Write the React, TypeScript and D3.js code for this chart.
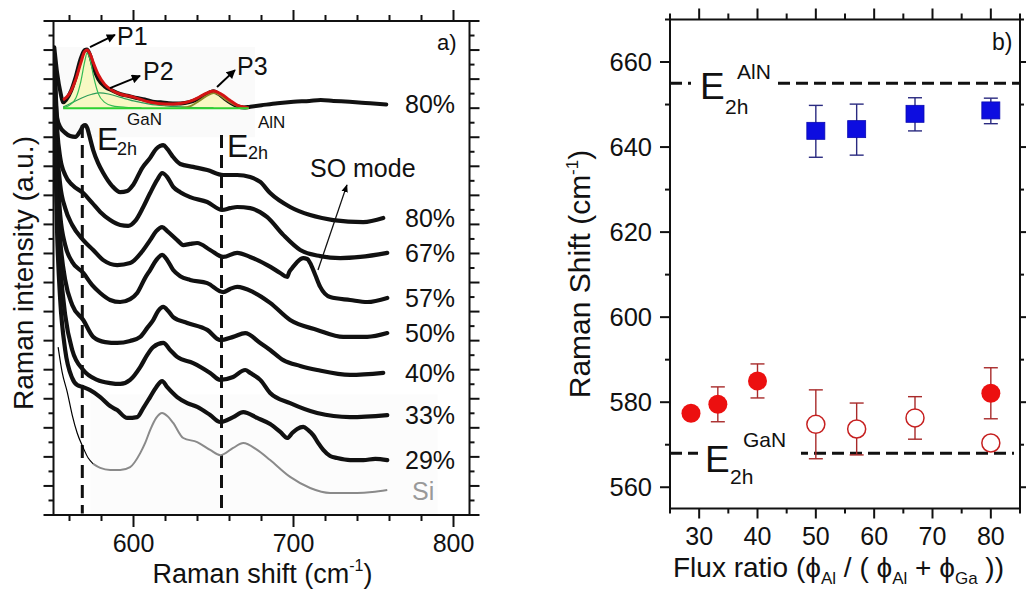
import React from 'react';
import * as d3 from 'd3';

type Pt = [number, number];
const FONT = "'Liberation Sans', Arial, Helvetica, sans-serif";

// ---------------- Panel a : Raman spectra (shift cm-1, intensity a.u. offset) ----------------
const spec80top: Pt[] = [[550.5,16.1],[552.3,15.2],[554.5,14.5],[556,14.2],[558,14.3],[561,14.6],[564,15.1],[567,15.7],[569.5,16.0],[571,16.02],[573,15.8],[575,15.4],[578,15.0],[582,14.75],[587,14.6],[592,14.48],[597,14.42],[602,14.35],[607,14.3],[612,14.22],[617,14.2],[622,14.17],[627,14.16],[632,14.18],[637,14.24],[641,14.34],[645,14.46],[648,14.55],[650,14.58],[653,14.5],[657,14.33],[661,14.18],[665,14.07],[669,14.02],[673,14.05],[680,14.1],[690,14.17],[700,14.22],[710,14.25],[717,14.28],[725,14.25],[735,14.22],[745,14.18],[752,14.15],[758,14.13]];
const fitTotal: Pt[] = [[556,14.28],[560,14.5],[564,15.0],[567,15.55],[569.5,15.95],[571,16.0],[573,15.85],[575,15.55],[578,15.15],[582,14.82],[587,14.6],[592,14.48],[600,14.38],[610,14.21],[620,14.14],[630,14.17],[636,14.25],[640,14.35],[645,14.5],[650,14.59],[655,14.48],[660,14.28],[665,14.1],[669,14.04],[672,14.01]];
const fitP1: Pt[] = [[556,14.02],[560,14.1],[564,14.35],[567,14.9],[569.5,15.6],[571,15.9],[573,15.65],[575,15.1],[578,14.5],[582,14.2],[587,14.08],[595,14.03],[605,14.01]];
const fitP2: Pt[] = [[556,14.04],[562,14.2],[568,14.36],[574,14.48],[579,14.53],[585,14.48],[592,14.37],[600,14.25],[610,14.14],[620,14.08],[635,14.03],[650,14.01]];
const fitP3: Pt[] = [[630,14.01],[636,14.08],[641,14.25],[646,14.43],[650,14.52],[654,14.45],[658,14.28],[663,14.12],[668,14.03],[672,14.01]];
const fitBase: Pt[] = [[556,14.0],[672,14.0]];

const spec80: Pt[] = [[550.5,15.83],[552.3,13.66],[554.2,13.35],[557.3,13.15],[560.4,13.04],[563.6,13.01],[566.7,13.21],[568.6,13.39],[569.8,13.42],[571.1,13.32],[572.3,13.08],[574.8,12.56],[577.9,12.11],[581.1,11.77],[586.7,11.32],[591.7,11.11],[596.1,11.15],[599.8,11.36],[605.4,11.94],[610.4,12.29],[614.2,12.6],[616.7,12.7],[618.6,12.73],[621.1,12.6],[624.2,12.36],[629.2,12.08],[637.3,11.98],[646.1,11.87],[656.1,11.7],[664.8,11.7],[672.9,11.63],[679.2,11.46],[685.4,11.08],[697.9,10.6],[710.4,10.32],[724.8,10.15],[743.6,10.08],[756.1,10.22]];
const spec67: Pt[] = [[550.4,15.59],[552.3,13.25],[554.2,12.29],[557.3,11.7],[561.7,11.36],[568.6,11.08],[574.2,10.74],[579.2,10.43],[585.4,10.15],[591.7,9.98],[596.7,9.95],[601.1,10.12],[606.1,10.6],[610.4,11.08],[614.8,11.53],[617.9,11.77],[621.1,11.63],[624.8,11.29],[629.2,11.11],[635.4,10.94],[646.1,10.77],[655.4,10.5],[660.4,10.56],[664.8,10.6],[672.9,10.56],[683.6,10.25],[693.6,9.64],[704.2,9.12],[716.7,8.91],[729.2,8.84],[741.7,8.88],[758.6,9.02]];
const spec57: Pt[] = [[550.4,15.31],[552.3,12.56],[554.2,11.36],[557.3,10.56],[561.7,9.98],[568.6,9.46],[574.8,9.12],[581.1,8.77],[589.8,8.6],[597.9,8.67],[606.1,9.12],[610.4,9.46],[614.2,9.77],[617.9,9.91],[621.1,9.77],[627.3,9.46],[631.1,9.29],[635.4,9.33],[639.8,9.36],[647.9,9.12],[656.1,8.88],[664.8,9.02],[672.9,8.88],[683.6,8.6],[691.7,8.33],[696.1,8.19],[697.3,8.36],[699.2,8.5],[702.3,8.71],[706.1,8.84],[708.6,8.81],[710.4,8.67],[713.6,8.26],[716.7,7.85],[722.9,7.5],[735.4,7.4],[746.1,7.33],[758.6,7.47]];
const spec50: Pt[] = [[550.4,15.04],[552.3,11.87],[554.2,10.32],[557.3,9.29],[561.7,8.71],[568.6,8.33],[574.2,7.91],[579.2,7.64],[585.4,7.4],[591.7,7.33],[597.9,7.43],[602.3,7.64],[607.3,8.16],[610.4,8.43],[614.2,8.77],[617.9,8.95],[621.1,8.77],[624.8,8.43],[629.2,8.22],[635.4,8.09],[646.1,7.98],[656.1,7.67],[660.4,7.78],[664.8,7.85],[674.8,7.67],[685.4,7.3],[697.9,6.71],[714.8,6.37],[731.1,6.13],[746.1,6.13],[758.6,6.26]];
const spec40: Pt[] = [[550.4,14.8],[552.3,11.18],[554.2,9.46],[557.3,8.09],[561.7,7.23],[568.6,6.71],[574.8,6.13],[582.3,5.95],[589.8,5.92],[597.9,5.99],[604.2,6.13],[608.6,6.44],[612.3,6.71],[615.4,7.02],[618.6,7.16],[621.7,7.02],[624.8,6.81],[633.6,6.61],[646.1,6.37],[654.2,6.02],[662.3,6.13],[669.8,6.26],[679.2,5.92],[685.4,5.68],[693.6,5.33],[704.2,5.13],[714.8,4.99],[735.4,4.82],[756.1,4.89]];
const spec33: Pt[] = [[550.4,14.56],[552.3,10.5],[554.2,8.6],[557.3,6.88],[561.7,5.68],[568.6,4.99],[577.3,4.65],[585.4,4.54],[591.7,4.51],[597.9,4.65],[604.2,5.09],[608.6,5.51],[612.3,5.78],[618.6,5.92],[622.9,5.68],[627.3,5.44],[637.3,5.23],[647.9,4.89],[654.2,4.65],[662.3,4.75],[669.8,4.99],[672.9,4.89],[679.2,4.65],[685.4,4.2],[697.9,3.85],[714.8,3.51],[735.4,3.37],[758.6,3.44]];
const spec29: Pt[] = [[550.4,14.28],[552.3,9.64],[554.2,7.4],[557.3,5.68],[561.7,4.71],[564.8,4.47],[568.6,4.4],[572.9,4.3],[579.2,4.06],[585.4,3.75],[589.8,3.61],[596.1,3.34],[602.3,3.37],[606.1,3.68],[610.4,4.06],[614.2,4.4],[617.9,4.61],[621.1,4.4],[627.3,4.06],[633.6,3.85],[639.8,3.72],[647.9,3.44],[654.2,3.2],[662.3,3.37],[668.6,3.54],[677.3,3.34],[685.4,3.13],[691.7,2.86],[696.1,2.65],[699.2,2.82],[702.3,2.96],[706.1,3.03],[709.2,2.92],[712.3,2.75],[715.4,2.48],[718.6,2.24],[722.9,2.03],[727.3,1.96],[735.4,1.89],[743.6,1.89],[751.1,1.93],[758.6,1.89]];
const specSi: Pt[] = [[552.9,5.78],[555.4,4.92],[558.6,4.23],[561.7,3.44],[564.8,2.82],[568.6,2.31],[571.7,1.96],[574.8,1.76],[579.2,1.62],[585.4,1.55],[591.7,1.55],[597.9,1.65],[604.2,2.13],[607.3,2.48],[610.4,2.92],[614.2,3.34],[617.9,3.51],[621.1,3.41],[624.8,3.17],[631.1,2.65],[639.8,2.51],[647.9,2.24],[654.2,2.06],[662.3,2.31],[668.6,2.48],[677.3,2.24],[685.4,1.89],[697.9,1.31],[710.4,0.93],[722.9,0.76],[739.8,0.76],[749.2,0.79],[758.6,0.86]];

const blackSeries: Pt[][] = [spec80top, spec80, spec67, spec57, spec50, spec40, spec33, spec29];
const seriesLabels = ['80%', '80%', '67%', '57%', '50%', '40%', '33%', '29%'];
const siLabel = 'Si';
const e2hGaN = 568;
const e2hAlN = 655;
const dashTopGaN = 13.42;
const dashTopAlN = 13.08;

// ---------------- Panel b : peak positions ----------------
const alnX = [50, 57, 67, 80];
const alnY = [643.7, 644.1, 647.7, 648.5];
const alnErr = [6.1, 6.0, 3.9, 3.0];
const ganFilledX = [28.6, 33.2, 40, 80];
const ganFilledY = [577.4, 579.5, 585.0, 582.1];
const ganFilledErr = [0, 4.1, 4.0, 6.0];
const ganOpenX = [50, 57, 67, 80];
const ganOpenY = [574.8, 573.7, 576.3, 570.4];
const ganOpenErr = [8.1, 6.1, 5.0, 0];
const refAlN = 655;
const refGaN = 568;
const bYTicks = [560, 580, 600, 620, 640, 660];
const bXTicks = [30, 40, 50, 60, 70, 80];

export default function App() {
  const W = 1026, H = 589;
  // panel a scales
  const xA = d3.scaleLinear().domain([550, 810]).range([53.5, 469.5]);
  const yA = d3.scaleLinear().domain([0, 17]).range([515, 21]);
  const lineA = d3.line<Pt>().x(d => xA(d[0])).y(d => yA(d[1])).curve(d3.curveMonotoneX);
  const areaFit = d3.area<Pt>().x(d => xA(d[0])).y0(yA(14.0)).y1(d => yA(d[1])).curve(d3.curveMonotoneX);
  // panel b scales
  const xB = d3.scaleLinear().domain([25, 85]).range([670, 1020]);
  const yB = d3.scaleLinear().domain([555, 670]).range([508.5, 19.5]);

  const [aL, aR] = xA.range();
  const [aB, aT] = yA.range();
  const [bL, bR] = xB.range();
  const [bB, bT] = yB.range();

  const siBlack = specSi.filter(d => d[0] <= 576);
  const siGray = specSi.filter(d => d[0] >= 574.8);

  const aXTicks = d3.range(560, 801, 20);
  const aYTicks = d3.range(0, 17.01, 0.5);
  const bXT = d3.range(25, 85.01, 5);
  const bYT = d3.range(560, 670.01, 10);

  const arrowP = (x1: number, y1: number, x2: number, y2: number, key: string, sw = 2) => (
    <line key={key} x1={xA(x1)} y1={yA(y1)} x2={xA(x2)} y2={yA(y2)} stroke="#000" strokeWidth={sw} markerEnd="url(#arr)" />
  );

  return (
    <svg width={W} height={H} viewBox={`0 0 ${W} ${H}`} style={{ position: 'absolute', left: 0, top: 0, background: '#fff', fontFamily: FONT }}>
      <defs>
        <marker id="arr" viewBox="0 0 10 10" refX="9" refY="5" markerWidth="10" markerHeight="9" markerUnits="userSpaceOnUse" orient="auto">
          <path d="M0,0 L10,5 L0,10 z" fill="#000" />
        </marker>
        <marker id="arrs" viewBox="0 0 10 10" refX="9" refY="5" markerWidth="8" markerHeight="8" markerUnits="userSpaceOnUse" orient="auto">
          <path d="M0,1 L10,5 L0,9 z" fill="#000" />
        </marker>
        <clipPath id="clipA"><rect x={aL} y={aT} width={aR - aL} height={aB - aT} /></clipPath>
      </defs>

      {/* ============ Panel a ============ */}
      <rect x={xA(551)} y={yA(16.1)} width={xA(676) - xA(551)} height={yA(13.0) - yA(16.1)} fill="#fafafa" />
      <rect x={xA(573)} y={yA(4.15)} width={xA(790) - xA(573)} height={aB - yA(4.15)} fill="#fcfcfc" />

      {/* dashed reference lines */}
      <line x1={xA(e2hGaN)} x2={xA(e2hGaN)} y1={yA(dashTopGaN)} y2={yA(0.05)} stroke="#111" strokeWidth={3} strokeDasharray="13,7" />
      <line x1={xA(e2hAlN)} x2={xA(e2hAlN)} y1={yA(dashTopAlN)} y2={yA(0.05)} stroke="#111" strokeWidth={3} strokeDasharray="13,7" />

      <g clipPath="url(#clipA)">
        <path d={areaFit(fitTotal) || ''} fill="#f7f7b5" opacity={0.8} />
        <path d={lineA(siGray) || ''} fill="none" stroke="#8a8a8a" strokeWidth={2} />
        <path d={lineA(siBlack) || ''} fill="none" stroke="#000" strokeWidth={1.2} />
        {blackSeries.map((s, i) => (
          <path key={i} d={lineA(s) || ''} fill="none" stroke="#111" strokeWidth={i === 0 ? 4 : 4.2} strokeLinejoin="round" strokeLinecap="round" />
        ))}
        <path d={lineA(fitP2) || ''} fill="none" stroke="#2e9c5a" strokeWidth={1.2} />
        <path d={lineA(fitP1) || ''} fill="none" stroke="#33bb55" strokeWidth={1.2} />
        <path d={lineA(fitP3) || ''} fill="none" stroke="#8c8a2a" strokeWidth={2} />
        <path d={lineA(fitTotal) || ''} fill="none" stroke="#d41414" strokeWidth={3} strokeLinejoin="round" />
        <path d={lineA(fitBase) || ''} fill="none" stroke="#2fd02f" strokeWidth={2} />
      </g>

      {/* frame + ticks a */}
      <rect x={aL} y={aT} width={aR - aL} height={aB - aT} fill="none" stroke="#111" strokeWidth={2} />
      {aXTicks.map(t => {
        const major = t % 100 === 0;
        return (
          <g key={'ax' + t} stroke="#111" strokeWidth={2}>
            <line x1={xA(t)} x2={xA(t)} y1={aB} y2={aB + (major ? 12 : 6)} />
            <line x1={xA(t)} x2={xA(t)} y1={aT} y2={aT - (major ? 11 : 6)} />
          </g>
        );
      })}
      {aYTicks.map(t => {
        const major = Math.abs(t - Math.round(t)) < 1e-6;
        return (
          <g key={'ay' + t} stroke="#111" strokeWidth={2}>
            <line x1={aL} x2={aL - (major ? 10 : 5)} y1={yA(t)} y2={yA(t)} />
            <line x1={aR} x2={aR + (major ? 10 : 5)} y1={yA(t)} y2={yA(t)} />
          </g>
        );
      })}
      {[600, 700, 800].map(t => (
        <text key={'axl' + t} x={xA(t)} y={552} fontSize={25} textAnchor="middle" fill="#111">{t}</text>
      ))}
      <text x={(aL + aR) / 2 + 1} y={583} fontSize={27} textAnchor="middle" fill="#111">
        Raman shift (cm<tspan fontSize={16} dy={-12}>-1</tspan><tspan dy={12}>)</tspan>
      </text>
      <text transform={`translate(33,${(aT + aB) / 2 + 5}) rotate(-90)`} fontSize={28} textAnchor="middle" fill="#111">Raman intensity (a.u.)</text>

      {/* series labels */}
      {blackSeries.map((s, i) => (
        <text key={'lab' + i} x={405} y={yA(s[s.length - 1][1]) + 9} fontSize={25} fill="#111">{seriesLabels[i]}</text>
      ))}
      <text x={412} y={yA(specSi[specSi.length - 1][1]) + 10} fontSize={25} fill="#999">{siLabel}</text>
      <text x={437} y={50} fontSize={22} fill="#111">a)</text>

      {/* peak annotations */}
      {arrowP(572.8, 16.1, 588.4, 16.52, 'p1')}
      <text x={xA(589.7)} y={yA(16.17)} fontSize={25} fill="#111">P1</text>
      {arrowP(585.3, 14.69, 604.1, 15.11, 'p2')}
      <text x={xA(606)} y={yA(14.97)} fontSize={25} fill="#111">P2</text>
      {arrowP(652.2, 14.73, 663.4, 15.31, 'p3')}
      <text x={xA(664.7)} y={yA(15.14)} fontSize={25} fill="#111">P3</text>

      <text x={xA(577.2)} y={yA(12.56)} fontSize={32} fill="#111">E</text>
      <text x={xA(577.2) + 20} y={yA(12.56) + 5} fontSize={18} fill="#111">2h</text>
      <text x={xA(577.2) + 30} y={yA(12.56) - 25} fontSize={17} fill="#111">GaN</text>
      <text x={xA(658.4)} y={yA(12.32)} fontSize={32} fill="#111">E</text>
      <text x={xA(658.4) + 21} y={yA(12.32) + 2} fontSize={18} fill="#111">2h</text>
      <text x={xA(658.4) + 31} y={yA(12.32) - 29} fontSize={17} fill="#111">AlN</text>

      <line x1={xA(715.3)} y1={yA(8.43)} x2={xA(733.4)} y2={yA(11.36)} stroke="#111" strokeWidth={1.3} markerEnd="url(#arrs)" />
      <text x={xA(710.3)} y={yA(11.63)} fontSize={25} fill="#111">SO mode</text>

      {/* ============ Panel b ============ */}
      <line x1={bL} x2={bR} y1={yB(refAlN)} y2={yB(refAlN)} stroke="#111" strokeWidth={3} strokeDasharray="12,6" />
      <line x1={bL} x2={bR - 6} y1={yB(refGaN)} y2={yB(refGaN)} stroke="#111" strokeWidth={3} strokeDasharray="12,6" />
      <rect x={691} y={yB(refAlN) - 25} width={87} height={50} fill="#fff" />
      <rect x={698} y={yB(refGaN) - 25} width={103} height={50} fill="#fff" />
      <text x={700} y={yB(refAlN) + 16} fontSize={37} fill="#111">E</text>
      <text x={725} y={yB(refAlN) + 31} fontSize={21} fill="#111">2h</text>
      <text x={737} y={yB(refAlN) - 4} fontSize={21} fill="#111">AlN</text>
      <text x={705} y={yB(refGaN) + 19} fontSize={37} fill="#111">E</text>
      <text x={730} y={yB(refGaN) + 31} fontSize={21} fill="#111">2h</text>
      <text x={743} y={yB(refGaN) - 6} fontSize={21} fill="#111">GaN</text>

      {/* error bars */}
      {alnX.map((x, i) => (
        <g key={'ae' + i} stroke="#2a2a80" strokeWidth={1.4}>
          <line x1={xB(x)} x2={xB(x)} y1={yB(alnY[i] + alnErr[i])} y2={yB(alnY[i] - alnErr[i])} />
          <line x1={xB(x) - 7} x2={xB(x) + 7} y1={yB(alnY[i] + alnErr[i])} y2={yB(alnY[i] + alnErr[i])} />
          <line x1={xB(x) - 7} x2={xB(x) + 7} y1={yB(alnY[i] - alnErr[i])} y2={yB(alnY[i] - alnErr[i])} />
        </g>
      ))}
      {ganFilledX.map((x, i) => ganFilledErr[i] > 0 && (
        <g key={'fe' + i} stroke="#a82a2a" strokeWidth={1.4}>
          <line x1={xB(x)} x2={xB(x)} y1={yB(ganFilledY[i] + ganFilledErr[i])} y2={yB(ganFilledY[i] - ganFilledErr[i])} />
          <line x1={xB(x) - 7} x2={xB(x) + 7} y1={yB(ganFilledY[i] + ganFilledErr[i])} y2={yB(ganFilledY[i] + ganFilledErr[i])} />
          <line x1={xB(x) - 7} x2={xB(x) + 7} y1={yB(ganFilledY[i] - ganFilledErr[i])} y2={yB(ganFilledY[i] - ganFilledErr[i])} />
        </g>
      ))}
      {ganOpenX.map((x, i) => ganOpenErr[i] > 0 && (
        <g key={'oe' + i} stroke="#a82a2a" strokeWidth={1.4}>
          <line x1={xB(x)} x2={xB(x)} y1={yB(ganOpenY[i] + ganOpenErr[i])} y2={yB(ganOpenY[i] - ganOpenErr[i])} />
          <line x1={xB(x) - 7} x2={xB(x) + 7} y1={yB(ganOpenY[i] + ganOpenErr[i])} y2={yB(ganOpenY[i] + ganOpenErr[i])} />
          <line x1={xB(x) - 7} x2={xB(x) + 7} y1={yB(ganOpenY[i] - ganOpenErr[i])} y2={yB(ganOpenY[i] - ganOpenErr[i])} />
        </g>
      ))}
      {/* markers */}
      {alnX.map((x, i) => (
        <rect key={'as' + i} x={xB(x) - 9} y={yB(alnY[i]) - 9} width={18} height={17} fill="#0d0de0" stroke="#0a0ab0" strokeWidth={0.8} />
      ))}
      {ganFilledX.map((x, i) => (
        <circle key={'fc' + i} cx={xB(x)} cy={yB(ganFilledY[i])} r={9.5} fill="#ec1010" />
      ))}
      {ganOpenX.map((x, i) => (
        <circle key={'oc' + i} cx={xB(x)} cy={yB(ganOpenY[i])} r={9} fill="#fff" stroke="#c62020" strokeWidth={1.5} />
      ))}

      {/* frame + ticks b */}
      <rect x={bL} y={bT} width={bR - bL} height={bB - bT} fill="none" stroke="#111" strokeWidth={2} />
      {bXT.map(t => {
        const major = t % 10 === 0;
        return (
          <g key={'bx' + t} stroke="#111" strokeWidth={2}>
            <line x1={xB(t)} x2={xB(t)} y1={bB} y2={bB + (major ? 10 : 5)} />
            <line x1={xB(t)} x2={xB(t)} y1={bT} y2={bT - (major ? 11 : 6)} />
          </g>
        );
      })}
      {bYT.map(t => {
        const major = t % 20 === 0;
        return (
          <g key={'by' + t} stroke="#111" strokeWidth={2}>
            <line x1={bL} x2={bL - (major ? 10 : 5)} y1={yB(t)} y2={yB(t)} />
            <line x1={bR} x2={bR + (major ? 7 : 4)} y1={yB(t)} y2={yB(t)} />
          </g>
        );
      })}
      {bYTicks.map(t => (
        <text key={'byl' + t} x={652} y={yB(t) + 9} fontSize={25.5} textAnchor="end" fill="#111">{t}</text>
      ))}
      {bXTicks.map(t => (
        <text key={'bxl' + t} x={xB(t)} y={545} fontSize={25} textAnchor="middle" fill="#111">{t}</text>
      ))}
      <text x={673} y={577} fontSize={28} fill="#111">
        Flux ratio (ϕ<tspan fontSize={17} dy={7}>Al</tspan><tspan dy={-7}> / ( ϕ</tspan><tspan fontSize={17} dy={7}>Al</tspan><tspan dy={-7}> + ϕ</tspan><tspan fontSize={17} dy={7}>Ga</tspan><tspan dy={-7}> ))</tspan>
      </text>
      <text transform={`translate(590,${(bT + bB) / 2 + 10}) rotate(-90)`} fontSize={30} textAnchor="middle" fill="#111">
        Raman Shift (cm<tspan fontSize={17} dy={-12}>-1</tspan><tspan dy={12}>)</tspan>
      </text>
      <text x={992} y={50} fontSize={23} fill="#111">b)</text>
    </svg>
  );
}
